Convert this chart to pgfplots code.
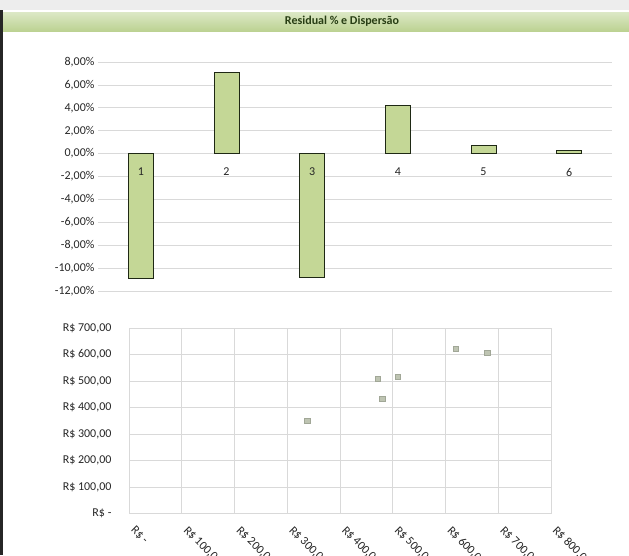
\documentclass[border=0pt]{standalone}
\usepackage{fontspec}
\setmainfont{Carlito}
\usepackage{pgfplots}
\pgfplotsset{compat=1.18}
\definecolor{bargreen}{RGB}{196,215,150}
\definecolor{baredge}{RGB}{30,40,20}
\definecolor{gridgray}{RGB}{217,217,217}
\definecolor{titlegreen}{RGB}{40,62,20}
\definecolor{bandA}{RGB}{188,210,146}
\definecolor{bandB}{RGB}{220,232,198}
\definecolor{markc}{RGB}{190,196,178}
\pgfplotsset{
  topaxis/.style={
    at={(98pt,-291pt)}, anchor=south west,
    scale only axis, width=514pt, height=229pt,
    xmin=0.5, xmax=6.5, ymin=-12, ymax=8,
    major tick length=0pt,
    axis line style={draw=none},
  },
}
\begin{document}
\begin{tikzpicture}
\useasboundingbox (0,0) rectangle (629pt,-555pt);
\fill[black!7] (0,0) rectangle (629pt,-10pt);
\shade[top color=bandB, bottom color=bandA] (3pt,-12pt) rectangle (629pt,-31pt);
\node[font=\bfseries\fontsize{12}{14}\selectfont, text=titlegreen] at (342pt,-21.5pt) {Residual \% e Dispersão};
\fill[black!85] (0,-10pt) rectangle (3pt,-555pt);

\begin{axis}[
  topaxis,
  ymajorgrids, grid style={gridgray, line width=0.8pt},
  ytick={-12,-10,-8,-6,-4,-2,0,2,4,6,8},
  yticklabels={{-12,00\%},{-10,00\%},{-8,00\%},{-6,00\%},{-4,00\%},{-2,00\%},{0,00\%},{2,00\%},{4,00\%},{6,00\%},{8,00\%}},
  xtick=\empty,
  ticklabel style={font=\fontsize{12}{14}\selectfont, text=black!85},
]
\addplot[ybar, bar width=25pt, fill=bargreen, draw=baredge, line width=1pt]
  coordinates {(1,-10.9) (2,7.1) (3,-10.8) (4,4.2) (5,0.75) (6,0.3)};
\end{axis}

\begin{axis}[
  topaxis,
  ytick=\empty,
  xtick={1,2,3,4,5,6},
  xticklabels={1,2,3,4,5,6},
  ticklabel style={font=\fontsize{12}{14}\selectfont, text=black!85},
  xticklabel style={anchor=center, yshift=119pt},
]
\addplot[draw=none, mark=none] coordinates {(1,0) (6,0)};
\end{axis}

\begin{axis}[
  at={(129pt,-513.5pt)}, anchor=south west,
  scale only axis, width=422pt, height=185.5pt,
  xmin=0, xmax=800, ymin=0, ymax=700,
  xtick={0,100,200,300,400,500,600,700,800},
  ytick={0,100,200,300,400,500,600,700},
  xticklabels={{R\$ -},{R\$ 100,00},{R\$ 200,00},{R\$ 300,00},{R\$ 400,00},{R\$ 500,00},{R\$ 600,00},{R\$ 700,00},{R\$ 800,00}},
  yticklabels={{R\$ -},{R\$ 100,00},{R\$ 200,00},{R\$ 300,00},{R\$ 400,00},{R\$ 500,00},{R\$ 600,00},{R\$ 700,00}},
  grid=major, grid style={gridgray, line width=0.8pt},
  axis line style={gridgray, line width=0.8pt},
  major tick length=0pt,
  ticklabel style={font=\fontsize{12}{14}\selectfont, text=black!85},
  yticklabel style={xshift=-14pt},
  xticklabel style={xshift=7pt, yshift=-7pt, rotate=-45, anchor=north west},
]
\addplot[only marks, mark=square*, mark size=2.6pt, mark options={fill=markc, draw=markc!85!black}]
  coordinates {(338,349) (472,508) (480,432) (510,515) (620,621) (679,606)};
\end{axis}
\end{tikzpicture}
\end{document}
